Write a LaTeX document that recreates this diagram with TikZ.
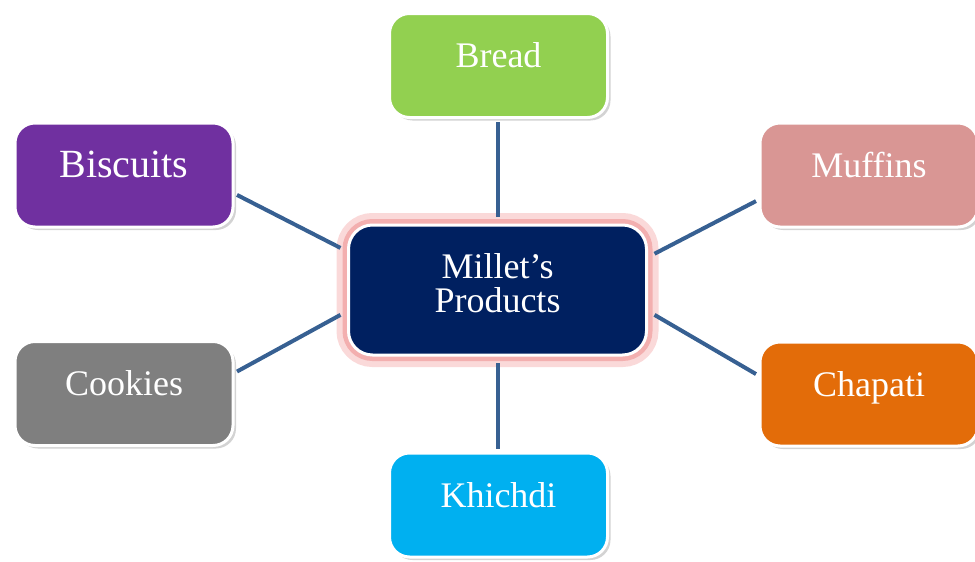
\documentclass[tikz,border=0pt]{standalone}
\usepackage{fontspec}
\setmainfont{Liberation Serif}
\usetikzlibrary{positioning,shadows,calc}
\definecolor{hubnavy}{HTML}{002060}
\definecolor{glowout}{HTML}{FAD9D9}
\definecolor{glowin}{HTML}{F3AFAF}
\definecolor{linkblue}{HTML}{376092}
\definecolor{breadgreen}{HTML}{92D050}
\definecolor{biscpurple}{HTML}{7030A0}
\definecolor{muffpink}{HTML}{D99694}
\definecolor{cookgray}{HTML}{7F7F7F}
\definecolor{chaporange}{HTML}{E36C09}
\definecolor{khichblue}{HTML}{00B0F0}

\begin{document}
\begin{tikzpicture}[x=0.5pt, y=-0.5pt, font=\fontsize{18}{18}\selectfont]
	\tikzstyle{item}=[draw=white, line width=1.5pt, rounded corners=10pt, text=white,
	minimum width=109pt, minimum height=52pt, inner sep=0pt, outer sep=2pt,
	text height=12pt, text depth=10pt,
	drop shadow={opacity=0.35, shadow xshift=1.5pt, shadow yshift=-1.5pt}]
	\tikzstyle{hub}=[draw=white, line width=1.5pt, rounded corners=12pt, text=white,
	fill=hubnavy, minimum width=149pt, minimum height=65pt, inner sep=0pt, outer sep=4pt,
	align=center,
	preaction={draw=glowout, line width=12pt},
	preaction={draw=glowin, line width=6pt}]
	\tikzstyle{link}=[draw=linkblue, line width=2pt]

	\useasboundingbox (0,0) rectangle (975,562);

	% products around the hub
	\node[item, fill=breadgreen] (bread) at (498.5,65.5) {Bread};
	\node[item, fill=biscpurple, font=\fontsize{20}{20}\selectfont] (biscuits) at (124,175) {Biscuits};
	\node[item, fill=muffpink] (muffins) at (869,175) {Muffins};
	\node[item, fill=cookgray] (cookies) at (124,393.5) {Cookies};
	\node[item, fill=chaporange] (chapati) at (869,394) {Chapati};
	\node[item, fill=khichblue] (khichdi) at (498.5,505) {Khichdi};

	\node[hub] (hub) at (497.5,290) {Millet’s\\[-1pt]Products\\[-11pt]};

	% connectors
	\draw[link] (hub.north) -- (hub.north |- bread.south);
	\draw[link] (hub.south) -- (hub.south |- khichdi.north);
	\draw[link] (biscuits.-10) -- (hub.165);
	\draw[link] (cookies.11) -- (hub.-171);
	\draw[link] (muffins.-167) -- (hub.13);
	\draw[link] (chapati.170) -- (hub.-9);
\end{tikzpicture}
\end{document}
